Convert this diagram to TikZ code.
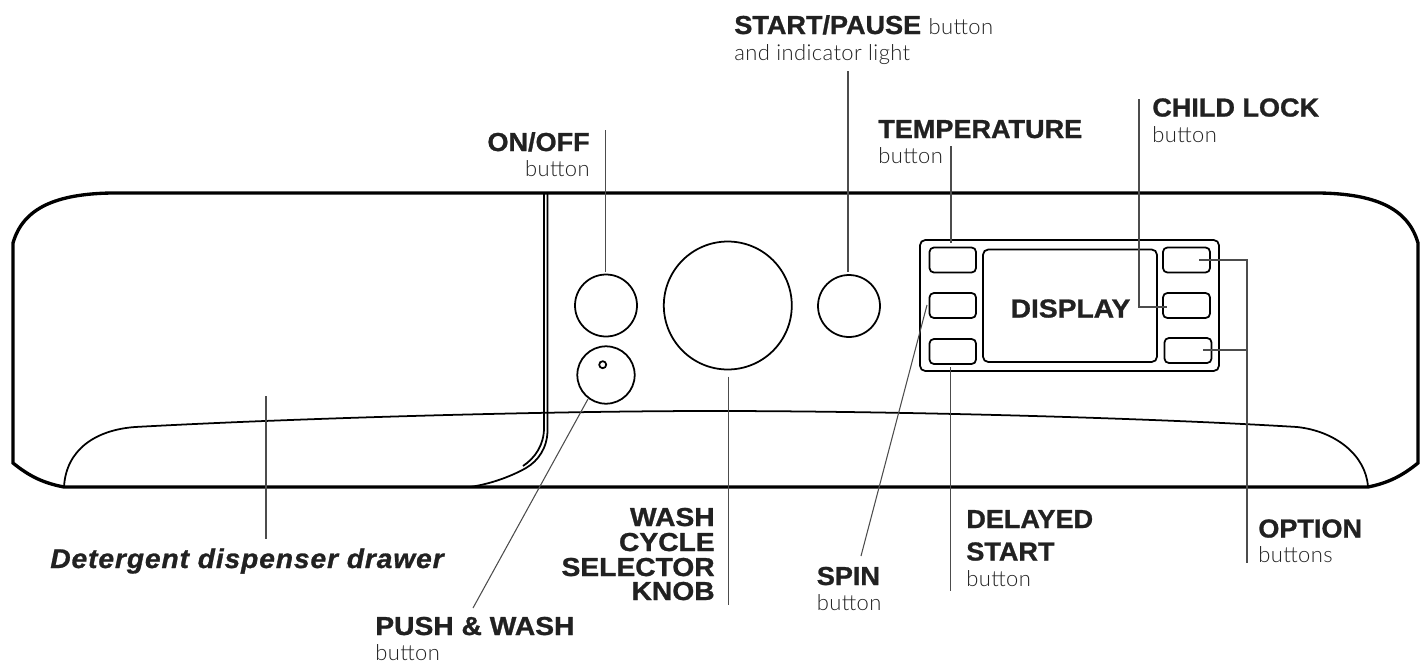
\documentclass[tikz,border=0pt]{standalone}
\usepackage{fontspec}
\setmainfont{Liberation Sans}
\newfontfamily\heavyfont[FakeBold=1,FakeStretch=1.04]{Liberation Sans Bold}
\newfontfamily\heavywide[FakeBold=1,FakeStretch=1.085]{Liberation Sans Bold}
\newfontfamily\heavyital[FakeBold=1,FakeStretch=1.04,LetterSpace=3.4]{Liberation Sans Bold Italic}
\newfontfamily\thinfont[LetterSpace=1.8]{Lato Light}
\colorlet{background}{white}
\colorlet{penColor}{black}
\colorlet{leadColor}{black!70}
\colorlet{textColor}{black!87}
\tikzset{
  shell/.style={penColor, line width=1.9pt},
  edge/.style={penColor, line width=1pt},
  lead/.style={leadColor, line width=.6pt},
  note/.style={textColor, inner sep=0pt, font=\fontsize{14.8}{16}\heavyfont},
  wide/.style={textColor, inner sep=0pt, font=\fontsize{14.8}{16}\heavywide},
  small/.style={textColor, inner sep=0pt, font=\fontsize{12.5}{16}\thinfont},
}
\begin{document}
\begin{tikzpicture}[x=.02cm,y=-.02cm]
\useasboundingbox (0,0) rectangle (1428,670);

% body of the panel
\draw[shell] (111,193) -- (1320,193) .. controls (1375,194) and (1408,208) .. (1418,243) -- (1418,463)
  .. controls (1402,476) and (1388,483) .. (1368,487) -- (64,487) .. controls (43,483) and (29,476) .. (13,463)
  -- (13,243) .. controls (23,208) and (56,194) .. (111,193) -- cycle;
\draw[edge] (64,487) .. controls (66,450) and (95,430) .. (135,427) .. controls (300,418) and (550,411) .. (712,411)
  .. controls (900,411) and (1150,418) .. (1297,427) .. controls (1335,431) and (1366,455) .. (1368,487);

% drawer
\draw[edge] (544,193) -- (544,428) .. controls (544,445) and (535,458) .. (523,466);
\draw[edge] (547.5,193) -- (547.5,430) .. controls (547.5,448) and (538,461) .. (526,468)
  .. controls (510,477) and (490,484) .. (470,487);

% knobs
\draw[edge] (606,305.5) circle [radius=.62cm];
\draw[edge] (606,375) circle [radius=.574cm];
\draw[edge] (602.7,364.7) circle [radius=.07cm];
\draw[edge] (727.8,305.5) circle [radius=1.28cm];
\draw[edge] (849,306) circle [radius=.62cm];

% display block
\draw[edge,rounded corners=3pt] (920,240) rectangle (1219,371);
\draw[edge,rounded corners=3pt] (983,249.5) rectangle (1157,362);
\foreach \ya/\yb in {247.5/272.5,293/318,339/364} {
  \draw[edge,rounded corners=2.5pt] (929.5,\ya) rectangle (976,\yb);
}
\draw[edge,rounded corners=2.5pt] (1163,247.5) rectangle (1210,272.5);
\draw[edge,rounded corners=2.5pt] (1163,293) rectangle (1210,318);
\draw[edge,rounded corners=2.5pt] (1164.5,338) rectangle (1211.5,363);
\node[wide,anchor=base] (display) at (1070.5,317.5) {DISPLAY};

% labels
\node[note,anchor=base west] (startLabel) at (734,34) {START/PAUSE {\fontsize{12.5}{16}\thinfont button}};
\node[small,anchor=base west] (startNote) at (734,60) {and indicator light};
\node[note,anchor=base east] (onLabel) at (590,151) {ON/OFF};
\node[small,anchor=base east] (onNote) at (590,176) {button};
\node[note,anchor=base west] (tempLabel) at (878,138) {TEMPERATURE};
\node[small,anchor=base west] (tempNote) at (878,163) {button};
\node[note,anchor=base west] (lockLabel) at (1152,116.5) {CHILD LOCK};
\node[small,anchor=base west] (lockNote) at (1152,142) {button};
\node[note,anchor=base west,font=\fontsize{15.4}{16}\heavyital] (drawerLabel) at (50,568) {Detergent dispenser drawer};
\node[wide,anchor=base east] (washA) at (715,526) {WASH};
\node[wide,anchor=base east] (washB) at (715,551) {CYCLE};
\node[wide,anchor=base east] (washC) at (715,576) {SELECTOR};
\node[wide,anchor=base east] (washD) at (715,600) {KNOB};
\node[wide,anchor=base west] (pushLabel) at (375,635) {PUSH \& WASH};
\node[small,anchor=base west] (pushNote) at (375,660) {button};
\node[note,anchor=base west] (spinLabel) at (816.5,585) {SPIN};
\node[small,anchor=base west] (spinNote) at (816.5,610) {button};
\node[note,anchor=base west] (delayA) at (966,528) {DELAYED};
\node[note,anchor=base west] (delayB) at (966,560.5) {START};
\node[small,anchor=base west] (delayNote) at (966,586.5) {button};
\node[note,anchor=base west] (optLabel) at (1258,537.5) {OPTION};
\node[small,anchor=base west] (optNote) at (1258,562.5) {buttons};

% leader ends
\coordinate (onA) at (605.5,130);
\coordinate (onB) at (605.5,272);
\coordinate (startA) at (848,71);
\coordinate (startB) at (848,271.5);
\coordinate (tempA) at (951,146);
\coordinate (tempB) at (951,243);
\coordinate (lockA) at (1139,99);
\coordinate (lockB) at (1139,307);
\coordinate (lockC) at (1166.5,307);
\coordinate (optA) at (1199,260);
\coordinate (optB) at (1247,260);
\coordinate (optC) at (1203,350);
\coordinate (optD) at (1247,350);
\coordinate (optE) at (1247,562.5);
\coordinate (delayC) at (950.5,367);
\coordinate (delayD) at (950.5,590.5);
\coordinate (spinA) at (927,305);
\coordinate (spinB) at (861,556);
\coordinate (pushA) at (588,399);
\coordinate (pushB) at (473,608);
\coordinate (drawerA) at (266,396);
\coordinate (drawerB) at (266,539);
\coordinate (washE) at (728.7,376.5);
\coordinate (washF) at (728.7,605);

\draw[lead] (onA) -- (onB);
\draw[lead] (startA) -- (startB);
\draw[lead] (tempA) -- (tempB);
\draw[lead] (lockA) -- (lockB) -- (lockC);
\draw[lead] (optA) -- (optB) -- (optE);
\draw[lead] (optC) -- (optD);
\draw[lead] (delayC) -- (delayD);
\draw[lead] (spinA) -- (spinB);
\draw[lead] (pushA) -- (pushB);
\draw[lead] (drawerA) -- (drawerB);
\draw[lead] (washE) -- (washF);
\end{tikzpicture}
\end{document}
